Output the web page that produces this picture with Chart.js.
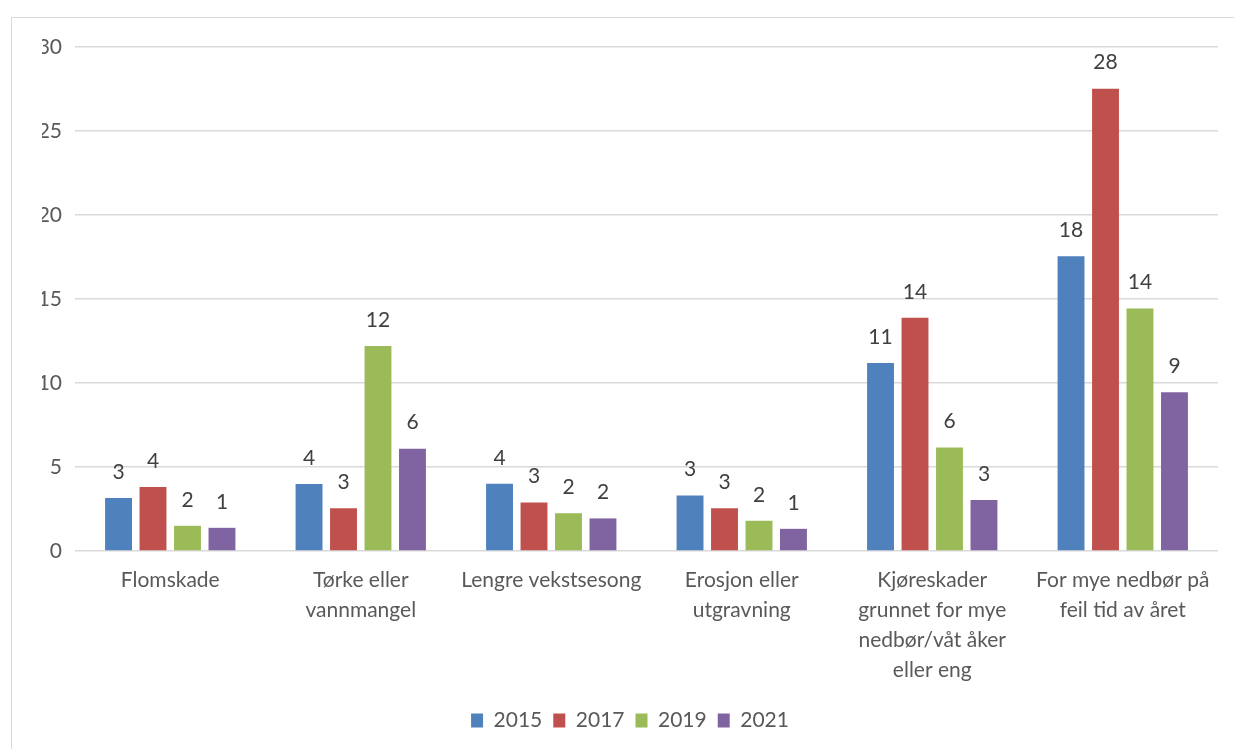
<!DOCTYPE html>
<html>
<head>
<meta charset="utf-8">
<script src="https://cdn.jsdelivr.net/npm/chart.js@4.4.0/dist/chart.umd.min.js"></script>
<style>
  html, body { margin: 0; padding: 0; background: #fff; overflow: hidden; }
  #frame {
    position: absolute; left: 11px; top: 17px;
    width: 1240px; height: 760px;
    border: 1px solid #d9d9d9;
  }
  #chart { position: absolute; left: 0; top: 0; }
</style>
</head>
<body>
<div id="frame">
  <canvas id="chart" width="1222" height="731"></canvas>
</div>
<script>
const categories = [
    'Flomskade',
    ['Tørke eller', 'vannmangel'],
    'Lengre vekstsesong',
    ['Erosjon eller', 'utgravning'],
    ['Kjøreskader', 'grunnet for mye', 'nedbør/våt åker', 'eller eng'],
    ['For mye nedbør på', 'feil tid av året']
];
const years = ['2015', '2017', '2019', '2021'];
const values2015 = [3.15, 3.99, 4.0, 3.3, 11.19, 17.54];
const values2017 = [3.81, 2.55, 2.88, 2.54, 13.88, 27.52];
const values2019 = [1.5, 12.2, 2.24, 1.8, 6.16, 14.44];
const values2021 = [1.38, 6.09, 1.94, 1.32, 3.03, 9.45];
const yTicks = [0, 5, 10, 15, 20, 25, 30];
const colors = ['#4f81bd', '#c0504d', '#9bbb59', '#8064a2'];

const font = 'Lato, "Liberation Sans", sans-serif';
const textColor = '#595959';

// rounded value labels above each bar, like the Excel data labels
const barLabels = {
    id: 'barLabels',
    afterDatasetsDraw(chart) {
        const ctx = chart.ctx;
        ctx.save();
        ctx.font = '21px ' + font;
        ctx.fillStyle = '#404040';
        ctx.textAlign = 'center';
        ctx.textBaseline = 'middle';
        chart.data.datasets.forEach((ds, i) => {
            chart.getDatasetMeta(i).data.forEach((bar, j) => {
                ctx.fillText(Math.round(ds.data[j]), bar.x, bar.y - 26);
            });
        });
        ctx.restore();
    }
};

const series = [values2015, values2017, values2019, values2021];

new Chart(document.getElementById('chart'), {
    type: 'bar',
    data: {
        labels: categories,
        datasets: years.map((y, i) => ({
            label: y,
            data: series[i],
            backgroundColor: colors[i],
            categoryPercentage: 0.724,
            barPercentage: 0.78
        }))
    },
    options: {
        responsive: false,
        animation: false,
        // extra left padding nudges the centred legend right, as in the original
        layout: { padding: { top: 29, right: 16, left: 30, bottom: 8 } },
        plugins: {
            tooltip: { enabled: false },
            legend: {
                position: 'bottom',
                labels: {
                    font: { family: font, size: 21 },
                    color: textColor,
                    boxWidth: 12,
                    boxHeight: 14,
                    padding: 11
                }
            }
        },
        scales: {
            x: {
                grid: { display: false },
                border: { display: false },
                ticks: {
                    autoSkip: false,
                    maxRotation: 0,
                    padding: 6,
                    color: textColor,
                    font: { family: font, size: 21, lineHeight: 1.43 }
                },
                afterFit(scale) { scale.height = 148; }
            },
            y: {
                min: 0,
                max: 30,
                afterBuildTicks(scale) { scale.ticks = yTicks.map(v => ({ value: v })); },
                grid: { color: '#d9d9d9', lineWidth: 1.5, drawTicks: false },
                border: { display: false },
                ticks: {
                    padding: 13,
                    color: textColor,
                    font: { family: font, size: 21 }
                },
                afterFit(scale) { scale.width = 33; }
            }
        }
    },
    plugins: [barLabels]
});
</script>
</body>
</html>
